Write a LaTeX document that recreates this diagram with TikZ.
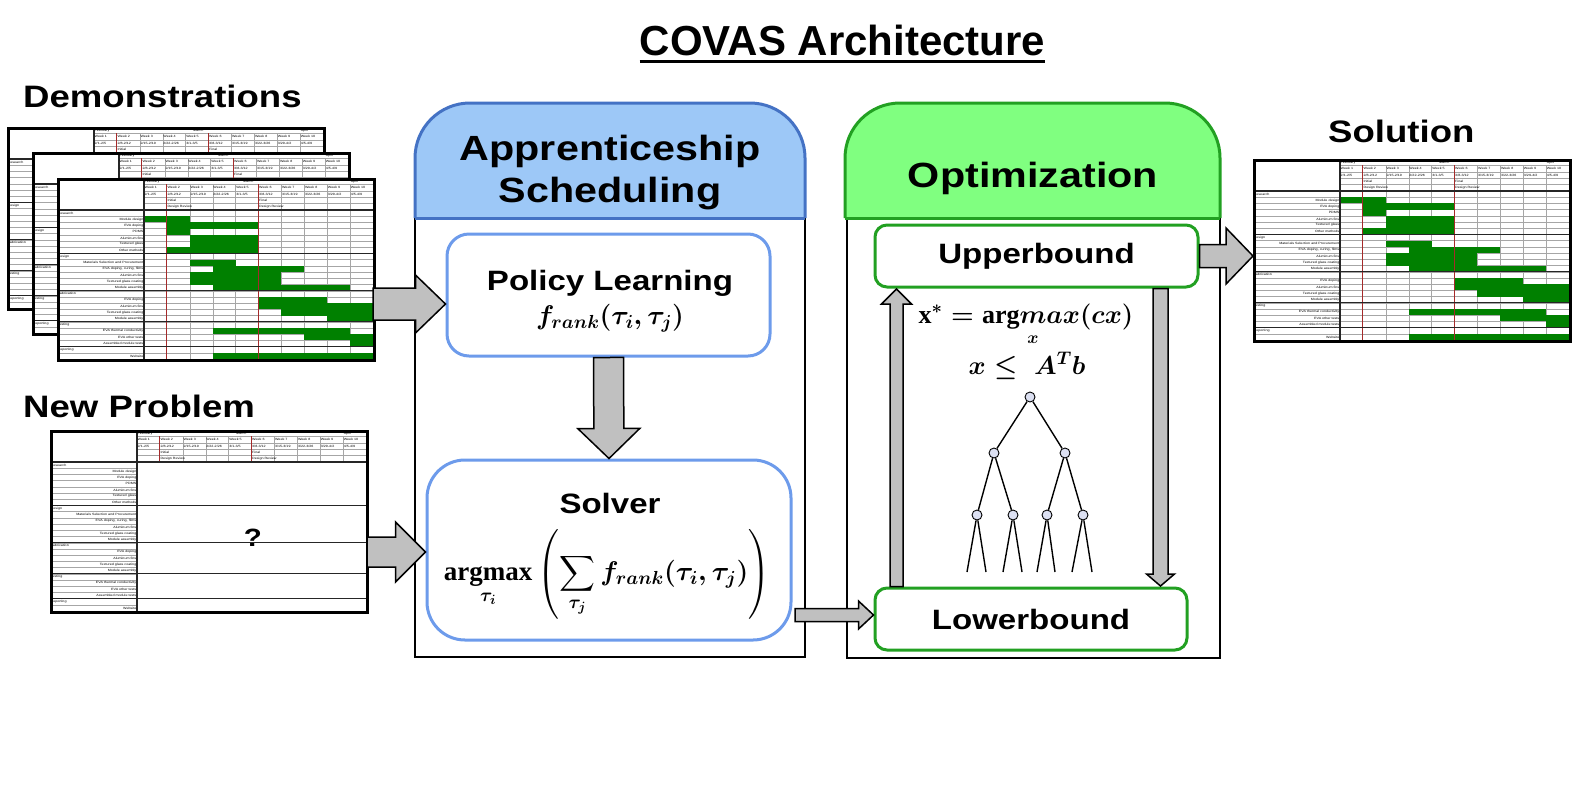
\RequirePackage{fix-cm}
\documentclass[tikz,border=0pt]{standalone}
\usepackage{amsmath}
\usepackage[no-math]{fontspec}
\setmainfont{Liberation Sans}[FakeStretch=1.18]
\newfontfamily\titlefont{Liberation Sans}
\newfontfamily\mathword{Liberation Serif}
\newcommand\opword[1]{\text{\mathword\bfseries #1}}
\usetikzlibrary{calc}

\definecolor{appfill}{HTML}{9DC8F7}
\definecolor{appline}{HTML}{4472C4}
\definecolor{appedge}{HTML}{6D9BEB}
\definecolor{optfill}{HTML}{80FF80}
\definecolor{optline}{HTML}{22A022}
\definecolor{arrowfill}{HTML}{C0C0C0}
\definecolor{barfill}{HTML}{008000}
\definecolor{knotfill}{HTML}{DCE0F2}
\definecolor{review}{HTML}{A52A2A}

% gantt sheet geometry (pt)
\def\gL{87}
\def\gC{22.9}
\def\gH{32}
\def\gR{6.2083}

\newcommand\ganttframe{%
  \foreach \r in {1,...,4}
    \draw[ganttgrid] (\gL,{\r*6.4}) -- (316,{\r*6.4});
  \foreach \c in {2,3,4,6,7,8,9}
    \draw[ganttgrid] ({\gL+\c*\gC},6.4) -- ({\gL+\c*\gC},\gH);
  \foreach \c in {1,5}
    \draw[reviewline] ({\gL+\c*\gC},6.4) -- ({\gL+\c*\gC},\gH);
  \foreach \r in {1,...,23}
    \draw[ganttgrid] (0,{\gH+\r*\gR}) -- (\gL,{\gH+\r*\gR});
  \foreach \r in {0,7,13,18,22}
    \draw[ganttthick] (0,{\gH+\r*\gR}) -- (316,{\gH+\r*\gR});
  \draw[ganttthick] (\gL,0) -- (\gL,181);
  \node[gantttext,anchor=west] at (\gL,3.6) {February};
  \node[gantttext,anchor=west] at ({\gL+4.3*\gC},3.6) {March};
  \node[gantttext,anchor=west] at ({\gL+9*\gC},3.6) {April};
  \foreach \c in {1,...,10}
    \node[gantttext,anchor=west] at ({\gL+(\c-1)*\gC},9.6) {Week \c};
  \foreach \d [count=\c from 0] in {{2/1-2/5},{2/8-2/12},{2/15-2/19},{2/22-2/26},{3/1-3/5},
      {3/8-3/12},{3/15-3/19},{3/22-3/26},{3/29-4/2},{4/5-4/9}}
    \node[gantttext,anchor=west] at ({\gL+\c*\gC},16) {\d};
  \node[gantttext,anchor=west] at ({\gL+\gC},22.4) {Initial};
  \node[gantttext,anchor=west] at ({\gL+5*\gC},22.4) {Final};
  \node[gantttext,anchor=west] at ({\gL+\gC},28.8) {Design Review};
  \node[gantttext,anchor=west] at ({\gL+5*\gC},28.8) {Design Review};
  \foreach \r/\t in {0/Research,7/Design,13/Fabrication,18/Testing,22/Reporting}
    \node[gantttext,anchor=west] at (0,{\gH+(\r+0.5)*\gR}) {\t};
  \foreach \r/\t in {1/Module design,2/EVA doping,3/PDMS,4/Aluminum fins,5/Textured glass,6/Other methods,
      8/Materials Selection and Procurement,9/{EVA doping, curing, films},10/Aluminum fins,
      11/Textured glass coating,12/Module assembly,14/EVA doping,15/Aluminum fins,
      16/Textured glass coating,17/Module assembly,19/EVA thermal conductivity,
      20/EVA other tests,21/Assembled module tests,23/Website}
    \node[gantttext,anchor=east] at (\gL,{\gH+(\r+0.5)*\gR}) {\t};
  \node[draw,line width=2.5pt,minimum width=316pt,minimum height=181pt,
    inner sep=0pt,anchor=north west] (-box) at (0,0) {};
}

\newcommand\ganttbars{%
  \foreach \r in {1,...,23}
    \draw[ganttgrid] (\gL,{\gH+\r*\gR}) -- (316,{\gH+\r*\gR});
  \foreach \c in {2,3,4,6,7,8,9}
    \draw[ganttgrid] ({\gL+\c*\gC},\gH) -- ({\gL+\c*\gC},181);
  \foreach \r/\a/\b in {1/1/2,2/2/5,3/2/2,4/3/5,5/3/5,6/2/5,
      8/3/4,9/4/7,10/3/6,11/3/6,12/4/9,
      14/6/8,15/6/10,16/7/10,17/9/10,
      19/4/9,20/8/10,21/10/10,23/4/10}
    \fill[ganttbar] ({\gL+(\a-1)*\gC},{\gH+\r*\gR}) rectangle ({\gL+\b*\gC},{\gH+(\r+1)*\gR});
  \foreach \c in {1,5}
    \draw[reviewline] ({\gL+\c*\gC},\gH) -- ({\gL+\c*\gC},181);
}

% {from}{to}{half shaft}{half head}{head length}
\newcommand\blockarrow[5]{%
  \draw[blockarrow] let \p1=($(#2)-(#1)$), \n1={veclen(\x1,\y1)}, \n2={atan2(\y1,\x1)} in
    [shift={(#1)},rotate=\n2]
    (0,#3) -- ({\n1-#5},#3) -- ({\n1-#5},#4) -- (\n1,0) -- ({\n1-#5},-#4)
    -- ({\n1-#5},-#3) -- (0,-#3) -- cycle;
}

\tikzset{
  panel/.style={draw=black,line width=2.5pt},
  heading/.style={font=\fontsize{31}{36}\selectfont\bfseries,inner sep=0pt},
  boxtitle/.style={font=\fontsize{35}{40}\selectfont\bfseries,inner sep=0pt},
  boxtext/.style={font=\fontsize{28}{34}\selectfont\bfseries,inner sep=0pt},
  formula/.style={font=\fontsize{#1}{#1}\selectfont\boldmath,inner sep=0pt},
  appbox/.style={draw=appedge,line width=3pt,fill=white,rounded corners=#1},
  optbox/.style={draw=optline,line width=3pt,fill=white,rounded corners=12pt,
    font=\fontsize{28}{34}\selectfont\bfseries},
  blockarrow/.style={draw=black,line width=1.5pt,fill=arrowfill,line join=miter},
  ganttgrid/.style={draw=black!35,line width=0.4pt},
  ganttthick/.style={draw=black!85,line width=1.1pt},
  reviewline/.style={draw=review,line width=0.9pt},
  ganttbar/.style={fill=barfill},
  gantttext/.style={font=\fontsize{3.1}{3.3}\selectfont,inner sep=0.5pt},
  knot/.style={circle,draw=black,line width=0.9pt,fill=knotfill,minimum size=10pt,inner sep=0pt},
  branch/.style={draw=black,line width=1.4pt},
  pics/gantt/.style={code={
    \fill[white] (0,0) rectangle (316,181);
    #1
    \ganttframe
  }}
}

\begin{document}
\begin{tikzpicture}[x=1pt,y=-1pt]
  \useasboundingbox (0,0) rectangle (1573,785);

  \node[font=\titlefont\fontsize{42}{48}\selectfont\bfseries,inner sep=0pt,anchor=base]
    (title) at (842.5,55) {COVAS Architecture};
  \draw[line width=3pt] ([yshift=-6.5pt]title.base west) -- ([yshift=-6.5pt]title.base east);

  % inputs and output
  \node[heading,anchor=base west] (demo label) at (23,107) {Demonstrations};
  \pic (demo1) at (7,127) {gantt=\ganttbars};
  \pic (demo2) at (32,152) {gantt=\ganttbars};
  \pic (demo3) at (57,178) {gantt=\ganttbars};
  \node[heading,anchor=base west] (new label) at (23,417) {New Problem};
  \pic (new) at (50,430)
    {gantt={\node[font=\fontsize{25}{30}\selectfont\bfseries] (-query) at (203,108) {?};}};
  \node[heading,anchor=base west] (solution label) at (1328,142) {Solution};
  \pic (solution) at (1253,159) {gantt=\ganttbars};

  % apprenticeship scheduling
  \draw[panel] (415,218) rectangle (805,657);
  \draw[appline,line width=3pt,fill=appfill,rounded corners=55pt]
    (415,218) -- (415,103) -- (805,103) -- (805,218);
  \draw[appline,line width=3pt] (415,218) -- (805,218);
  \node[boxtitle,anchor=base] (appr title) at (610,160) {Apprenticeship};
  \node[boxtitle,anchor=base] (appr subtitle) at (610,202) {Scheduling};
  \node[appbox=22pt,minimum width=323pt,minimum height=122pt] (policy) at (608.5,295) {};
  \node[boxtext,anchor=base] (policy name) at (610,290) {Policy Learning};
  \node[formula=27] (policy rank) at (610,318) {$f_{rank}(\tau_i,\tau_j)$};
  \node[appbox=38pt,minimum width=364pt,minimum height=180pt] (solver) at (609,550) {};
  \node[boxtext,anchor=base] (solver name) at (610,513) {Solver};
  \node[formula=27] (solver rank) at (607,574)
    {$\displaystyle\mathop{\opword{argmax}}_{\tau_i}\left(\sum_{\tau_j}f_{rank}(\tau_i,\tau_j)\right)$};

  % optimization
  \draw[panel] (847,218) rectangle (1220,658);
  \draw[optline,line width=3pt,fill=optfill,rounded corners=55pt]
    (845,218) -- (845,103) -- (1220,103) -- (1220,218);
  \draw[optline,line width=3pt] (845,218) -- (1220,218);
  \node[boxtitle,anchor=base] (opt title) at (1033,187) {Optimization};
  \node[optbox,minimum width=323pt,minimum height=62pt] (upper) at (1036.5,256) {Upperbound};
  \node[optbox,minimum width=312pt,minimum height=62pt] (lower) at (1031,619) {Lowerbound};
  \node[formula=26,anchor=base] (objective) at (1026,323) {$\opword{x}^{*}=\opword{arg}max(cx)$};
  \node[formula=17] (argvar) at (1033,340) {$x$};
  \node[formula=26,anchor=base] (constraint) at (1027,374) {$x\leq\ A^{T}b$};

  % branch and bound tree
  \node[knot] (t) at (1030,397) {};
  \node[knot] (t1) at (994,453) {};
  \node[knot] (t2) at (1065,453) {};
  \node[knot] (t11) at (977,515) {};
  \node[knot] (t12) at (1013,515) {};
  \node[knot] (t21) at (1047,515) {};
  \node[knot] (t22) at (1083,515) {};
  \draw[branch] (t) -- (t1);
  \draw[branch] (t) -- (t2);
  \draw[branch] (t1) -- (t11);
  \draw[branch] (t1) -- (t12);
  \draw[branch] (t2) -- (t21);
  \draw[branch] (t2) -- (t22);
  \foreach \n/\a/\b in {t11/967/986,t12/1003/1022,t21/1037/1055,t22/1072/1092}{
    \coordinate (\n-l) at (\a,572);
    \coordinate (\n-r) at (\b,572);
    \draw[branch] (\n) -- (\n-l);
    \draw[branch] (\n) -- (\n-r);
  }

  % block arrows
  \coordinate (demo out) at (373,304);
  \coordinate (policy in) at (policy.west |- demo out);
  \blockarrow{demo out}{policy in}{16}{29}{30}
  \coordinate (new out) at (367,552);
  \coordinate (solver in) at (solver.west |- new out);
  \blockarrow{new out}{solver in}{15}{30}{30}
  \blockarrow{policy.south}{solver.north}{15}{31}{30}
  \coordinate (solver out) at (795,615);
  \coordinate (lower in) at (lower.west |- solver out);
  \blockarrow{solver out}{lower in}{6.5}{14}{15}
  \coordinate (upper in) at (896.5,289);
  \coordinate (lower out) at (lower.north -| upper in);
  \blockarrow{lower out}{upper in}{6.5}{15}{15}
  \coordinate (lower top) at (1160.5,586);
  \coordinate (upper out) at (upper.south -| lower top);
  \blockarrow{upper out}{lower top}{7.5}{14}{12}
  \coordinate (solution in) at (solution-box.west |- upper.east);
  \blockarrow{upper.east}{solution in}{11.5}{28}{27}
\end{tikzpicture}
\end{document}
